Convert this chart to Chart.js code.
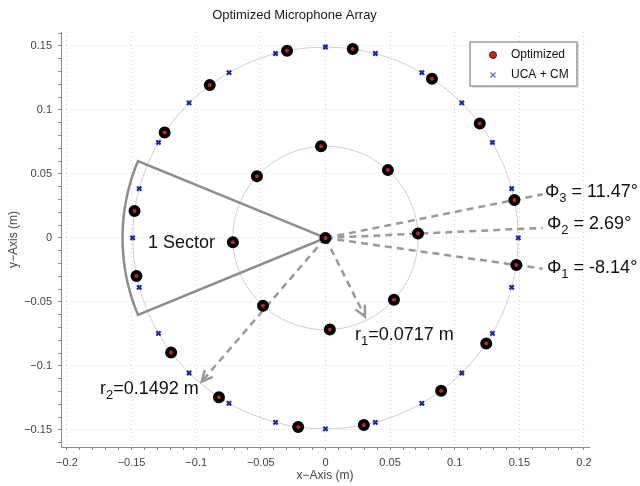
<!DOCTYPE html>
<html>
<head>
<meta charset="utf-8">
<title>Optimized Microphone Array</title>
<script src="https://cdn.jsdelivr.net/npm/chart.js@4/dist/chart.umd.min.js"></script>
<style>
    html, body { margin: 0; padding: 0; background: #fff; }
    #wrap { width: 640px; height: 486px; position: relative; }
</style>
</head>
<body>
<div id="wrap"><canvas id="chart"></canvas></div>
<script>
// Optimized layout: centre mic, inner ring (r1) and outer ring (r2), metres
const optimizedX = [
    0,
    0.0716, 0.0483, -0.0034, -0.0530, -0.0716, -0.0483, 0.0034, 0.0530,
    0.1477, 0.1462, 0.1194, 0.0824, 0.0211, -0.0297, -0.0895, -0.1244,
    -0.1477, -0.1462, -0.1194, -0.0824, -0.0211, 0.0297, 0.0895, 0.1244
];
const optimizedY = [
    0,
    0.0034, 0.0530, 0.0716, 0.0483, -0.0034, -0.0530, -0.0716, -0.0483,
    -0.0211, 0.0297, 0.0895, 0.1244, 0.1477, 0.1462, 0.1194, 0.0824,
    0.0211, -0.0297, -0.0895, -0.1244, -0.1477, -0.1462, -0.1194, -0.0824
];

// Uniform circular array + centre mic
const ucaX = [
    0,
    0.1492, 0.1441, 0.1292, 0.1055, 0.0746, 0.0386, 0, -0.0386, -0.0746, -0.1055, -0.1292, -0.1441,
    -0.1492, -0.1441, -0.1292, -0.1055, -0.0746, -0.0386, 0, 0.0386, 0.0746, 0.1055, 0.1292, 0.1441
];
const ucaY = [
    0,
    0, 0.0386, 0.0746, 0.1055, 0.1292, 0.1441, 0.1492, 0.1441, 0.1292, 0.1055, 0.0746, 0.0386,
    0, -0.0386, -0.0746, -0.1055, -0.1292, -0.1441, -0.1492, -0.1441, -0.1292, -0.1055, -0.0746, -0.0386
];

// ring radii and the angles marked on the figure
const ringRadii = [0.0717, 0.1492];
const phiAngles = [-8.14, 2.69, 11.47];
const phiLabels = ['= -8.14°', '= 2.69°', '= 11.47°'];

const xTickMajor = [-0.2, -0.15, -0.1, -0.05, 0, 0.05, 0.1, 0.15, 0.2];
const yTickMajor = [-0.15, -0.1, -0.05, 0, 0.05, 0.1, 0.15];

function toPoints(xs, ys) {
    return xs.map(function(x, i) { return { x: x, y: ys[i] }; });
}

function isMajor(v) {
    return Math.round(v * 100) % 5 === 0;
}

function tickText(v) {
    const r = Math.round(v * 100) / 100;
    if (!isMajor(v)) return '';
    return String(r).replace('-', '\u2212');
}

const GREY = '#8c8c8c';
const FONT = 'Arial, "Liberation Sans", Helvetica, sans-serif';

// text with a subscript, e.g. r1=..., phi3 = ...
function subText(ctx, x, y, main, sub, rest, size) {
    ctx.save();
    ctx.fillStyle = '#111';
    ctx.textBaseline = 'middle';
    ctx.textAlign = 'left';
    ctx.font = size + 'px ' + FONT;
    ctx.fillText(main, x, y);
    x += ctx.measureText(main).width;
    ctx.font = Math.round(size * 0.72) + 'px ' + FONT;
    ctx.fillText(sub, x, y + size * 0.35);
    x += ctx.measureText(sub).width;
    ctx.font = size + 'px ' + FONT;
    ctx.fillText(rest, x, y);
    ctx.restore();
}

function arrowHead(ctx, x0, y0, x1, y1) {
    const a = Math.atan2(y1 - y0, x1 - x0);
    const len = 12, spread = 0.45;
    ctx.setLineDash([]);
    ctx.beginPath();
    ctx.moveTo(x1 - len * Math.cos(a - spread), y1 - len * Math.sin(a - spread));
    ctx.lineTo(x1, y1);
    ctx.lineTo(x1 - len * Math.cos(a + spread), y1 - len * Math.sin(a + spread));
    ctx.stroke();
}

const annotations = {
    id: 'annotations',
    beforeDatasetsDraw: function(chart) {
        const ctx = chart.ctx;
        const xs = chart.scales.x, ys = chart.scales.y;
        const px = function(v) { return xs.getPixelForValue(v); };
        const py = function(v) { return ys.getPixelForValue(v); };
        const cx = px(0), cy = py(0);
        const kx = px(1) - cx, ky = cy - py(1);

        ctx.save();
        // rings
        ctx.strokeStyle = '#cfcfcf';
        ctx.lineWidth = 1;
        ringRadii.forEach(function(r) {
            ctx.beginPath();
            ctx.ellipse(cx, cy, r * kx, r * ky, 0, 0, Math.PI * 2);
            ctx.stroke();
        });

        // one sector (45 deg wide)
        const sr = 0.157;
        const a1 = 157.5 * Math.PI / 180, a2 = 202.5 * Math.PI / 180;
        ctx.strokeStyle = GREY;
        ctx.lineWidth = 2.5;
        ctx.lineJoin = 'miter';
        ctx.beginPath();
        ctx.moveTo(cx, cy);
        ctx.lineTo(cx + sr * kx * Math.cos(a1), cy - sr * ky * Math.sin(a1));
        ctx.ellipse(cx, cy, sr * kx, sr * ky, 0, -a1, -a2, true);
        ctx.closePath();
        ctx.stroke();

        // dashed angle lines
        ctx.strokeStyle = '#999';
        ctx.lineWidth = 2.5;
        ctx.setLineDash([7, 5]);
        phiAngles.forEach(function(deg) {
            const a = deg * Math.PI / 180;
            const ex = 0.168;
            ctx.beginPath();
            ctx.moveTo(cx, cy);
            ctx.lineTo(px(ex), py(ex * Math.tan(a)));
            ctx.stroke();
        });

        // radius arrows
        [[0.0306, -0.0615], [-0.0958, -0.1123]].forEach(function(p) {
            const ex = px(p[0]), ey = py(p[1]);
            ctx.setLineDash([7, 5]);
            ctx.beginPath();
            ctx.moveTo(cx, cy);
            ctx.lineTo(ex, ey);
            ctx.stroke();
            arrowHead(ctx, cx, cy, ex, ey);
        });
        ctx.restore();

        // labels
        ctx.save();
        ctx.fillStyle = '#111';
        ctx.font = '18px ' + FONT;
        ctx.textBaseline = 'middle';
        ctx.fillText('1 Sector', px(-0.1373), py(-0.0039));
        ctx.restore();

        const phiPos = [[0.1714, -0.0234], [0.1714, 0.0109], [0.1698, 0.0359]];
        phiAngles.forEach(function(deg, i) {
            subText(ctx, px(phiPos[i][0]), py(phiPos[i][1]), '\u03A6', String(i + 1), ' ' + phiLabels[i], 18);
        });
        subText(ctx, px(0.0228), py(-0.0758), 'r', '1', '=0.0717 m', 18);
        subText(ctx, px(-0.1745), py(-0.118), 'r', '2', '=0.1492 m', 18);
    },
    afterDraw: function(chart) {
        // legend box, top right inside the plot
        const ctx = chart.ctx;
        const area = chart.chartArea;
        const w = 107, h = 44;
        const x = area.right - 12 - w, y = area.top + 10;
        ctx.save();
        ctx.fillStyle = 'rgba(0,0,0,0.12)';
        ctx.fillRect(x + 2, y + 2, w, h);
        ctx.fillStyle = '#fff';
        ctx.fillRect(x, y, w, h);
        ctx.strokeStyle = '#9a9a9a';
        ctx.lineWidth = 1.5;
        ctx.strokeRect(x, y, w, h);

        ctx.fillStyle = '#c0281c';
        ctx.strokeStyle = '#6a140e';
        ctx.lineWidth = 1;
        ctx.beginPath();
        ctx.arc(x + 23, y + 13, 3.5, 0, Math.PI * 2);
        ctx.fill();
        ctx.stroke();

        ctx.strokeStyle = '#5a68b8';
        ctx.lineWidth = 1.2;
        const bx = x + 23, by = y + 33;
        ctx.beginPath();
        ctx.moveTo(bx - 2.5, by - 2.5); ctx.lineTo(bx + 2.5, by + 2.5);
        ctx.moveTo(bx - 2.5, by + 2.5); ctx.lineTo(bx + 2.5, by - 2.5);
        ctx.stroke();

        ctx.fillStyle = '#111';
        ctx.font = '12px ' + FONT;
        ctx.textBaseline = 'middle';
        ctx.fillText('Optimized', x + 41, y + 13);
        ctx.fillText('UCA + CM', x + 41, y + 33);
        ctx.restore();
    }
};

function axisOpts(min, max, title, titlePad) {
    return {
        type: 'linear',
        min: min,
        max: max,
        border: { color: GREY, width: 1, dash: [1, 3] },
        grid: {
            color: function(c) { return c.tick && isMajor(c.tick.value) ? '#d6d6d6' : 'rgba(0,0,0,0)'; },
            lineWidth: 1,
            tickColor: GREY,
            tickLength: 3,
            tickBorderDash: []
        },
        ticks: {
            stepSize: 0.01,
            autoSkip: false,
            includeBounds: false,
            maxRotation: 0,
            padding: 6,
            color: '#444',
            font: { family: FONT, size: 11 },
            callback: function(v) { return tickText(v); }
        },
        title: {
            display: true,
            text: title,
            color: '#444',
            font: { family: FONT, size: 12 },
            padding: titlePad
        }
    };
}

const xAxis = axisOpts(-0.2046, 0.2039, 'x\u2212Axis (m)', { top: 0, bottom: 3 });
xAxis.afterFit = function(scale) { scale.height = 39; };
const yAxis = axisOpts(-0.1633, 0.1609, 'y\u2212Axis (m)', { top: 6, bottom: 0 });
yAxis.afterFit = function(scale) { scale.width = 61; };

new Chart(document.getElementById('chart'), {
    type: 'scatter',
    data: {
        datasets: [
            {
                label: 'Optimized',
                data: toPoints(optimizedX, optimizedY),
                pointRadius: 4,
                pointHoverRadius: 4,
                borderWidth: 4,
                backgroundColor: '#c0281c',
                borderColor: '#000'
            },
            {
                label: 'UCA + CM',
                data: toPoints(ucaX, ucaY),
                pointStyle: 'crossRot',
                pointRadius: 3,
                pointHoverRadius: 3,
                borderWidth: 2.2,
                borderColor: '#1c2c91',
                backgroundColor: '#1c2c91'
            }
        ]
    },
    options: {
        responsive: true,
        maintainAspectRatio: false,
        animation: false,
        layout: { padding: { right: 51 } },
        plugins: {
            legend: { display: false },
            tooltip: { enabled: false },
            title: {
                display: true,
                text: 'Optimized Microphone Array',
                color: '#1a1a1a',
                font: { family: FONT, size: 13, weight: 'normal' },
                padding: { top: 8, bottom: 8.4 }
            }
        },
        scales: { x: xAxis, y: yAxis }
    },
    plugins: [annotations]
});
</script>
</body>
</html>
